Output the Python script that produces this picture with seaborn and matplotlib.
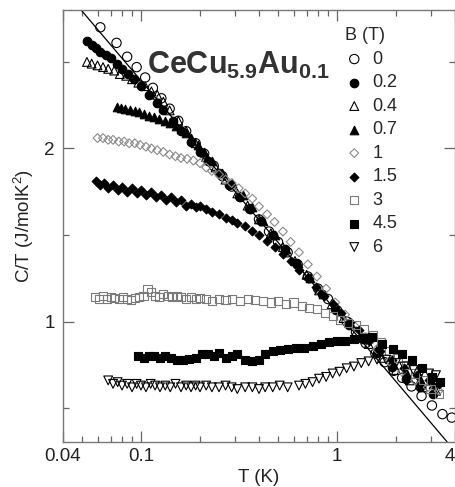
import matplotlib
matplotlib.use("Agg")
import matplotlib.pyplot as plt
import seaborn as sns
from matplotlib.ticker import NullFormatter

# C/T vs T for CeCu5.9Au0.1 at several fields
T_0 = [0.062, 0.075, 0.085, 0.095, 0.105, 0.115, 0.127, 0.14, 0.155, 0.17, 0.19, 0.21, 0.235,
       0.26, 0.29, 0.32, 0.36, 0.40, 0.45, 0.50, 0.56, 0.63, 0.71, 0.80, 0.90, 1.0, 1.12, 1.25,
       1.4, 1.57, 1.75, 1.95, 2.15, 2.4, 2.7, 3.05, 3.45, 3.85]
CT_0 = [2.70, 2.61, 2.53, 2.47, 2.41, 2.35, 2.29, 2.23, 2.16, 2.10, 2.03, 1.97, 1.90,
        1.84, 1.78, 1.72, 1.65, 1.59, 1.52, 1.46, 1.40, 1.33, 1.26, 1.19, 1.13, 1.065, 1.00, 0.94,
        0.875, 0.815, 0.765, 0.715, 0.675, 0.625, 0.57, 0.515, 0.465, 0.445]

T_02 = [0.053, 0.056, 0.059, 0.062, 0.066, 0.07, 0.075, 0.08, 0.086, 0.092, 0.1, 0.11, 0.12,
        0.13, 0.145, 0.16, 0.18, 0.2, 0.22, 0.25, 0.28, 0.32, 0.36, 0.41, 0.47, 0.54, 0.62,
        0.72, 0.84, 0.98, 1.15, 1.35, 1.6, 1.9, 2.25, 2.65, 3.1]
CT_02 = [2.62, 2.60, 2.58, 2.56, 2.54, 2.52, 2.49, 2.46, 2.43, 2.40, 2.36, 2.31, 2.26,
         2.22, 2.16, 2.10, 2.04, 1.98, 1.93, 1.86, 1.79, 1.72, 1.65, 1.58, 1.50, 1.42, 1.34,
         1.25, 1.16, 1.07, 0.98, 0.90, 0.82, 0.74, 0.67, 0.62, 0.58]

T_04 = [0.053, 0.056, 0.06, 0.064, 0.068, 0.073, 0.078, 0.084, 0.09, 0.097, 0.105, 0.113, 0.121,
        0.13, 0.14, 0.155, 0.17, 0.19, 0.215, 0.24, 0.27, 0.31, 0.35, 0.40, 0.46, 0.53, 0.61,
        0.7, 0.81, 0.94, 1.08, 1.25, 1.45, 1.7, 2.0, 2.35, 2.75, 3.2]
CT_04 = [2.50, 2.49, 2.48, 2.47, 2.46, 2.45, 2.43, 2.42, 2.40, 2.38, 2.36, 2.33, 2.31,
         2.27, 2.22, 2.16, 2.10, 2.03, 1.95, 1.89, 1.82, 1.74, 1.67, 1.59, 1.51, 1.43, 1.35,
         1.27, 1.18, 1.10, 1.02, 0.94, 0.87, 0.79, 0.72, 0.66, 0.62, 0.60]

T_07 = [0.075, 0.079, 0.083, 0.088, 0.093, 0.098, 0.104, 0.11, 0.117, 0.124, 0.132, 0.14, 0.15,
        0.16, 0.17, 0.18, 0.195, 0.21, 0.23, 0.26, 0.29, 0.33, 0.37, 0.42, 0.48, 0.55, 0.63,
        0.73, 0.85, 1.0, 1.17, 1.37, 1.6, 1.9, 2.25, 2.65, 3.1]
CT_07 = [2.24, 2.235, 2.23, 2.225, 2.215, 2.21, 2.20, 2.19, 2.18, 2.17, 2.16, 2.15, 2.13,
         2.11, 2.09, 2.06, 2.02, 1.98, 1.93, 1.86, 1.80, 1.73, 1.66, 1.58, 1.50, 1.42, 1.34,
         1.25, 1.16, 1.07, 0.99, 0.91, 0.84, 0.77, 0.71, 0.67, 0.64]

T_1 = [0.060, 0.064, 0.068, 0.072, 0.077, 0.082, 0.087, 0.093, 0.099, 0.106, 0.113, 0.121, 0.13,
       0.14, 0.15, 0.16, 0.172, 0.185, 0.2, 0.215, 0.23, 0.25, 0.27, 0.29, 0.315, 0.34, 0.37,
       0.40, 0.44, 0.48, 0.53, 0.58, 0.64, 0.71, 0.79, 0.88, 0.98, 1.1, 1.24, 1.4, 1.6, 1.85,
       2.15, 2.5, 2.9, 3.3]
CT_1 = [2.06, 2.06, 2.05, 2.05, 2.04, 2.04, 2.03, 2.03, 2.02, 2.01, 2.00, 1.99, 1.98,
        1.965, 1.955, 1.945, 1.94, 1.93, 1.915, 1.89, 1.87, 1.85, 1.82, 1.80, 1.77, 1.74, 1.71,
        1.665, 1.62, 1.575, 1.52, 1.46, 1.40, 1.33, 1.26, 1.19, 1.11, 1.04, 0.97, 0.91, 0.84, 0.77,
        0.71, 0.66, 0.62, 0.60]

T_15 = [0.059, 0.062, 0.065, 0.068, 0.072, 0.076, 0.08, 0.085, 0.09, 0.095, 0.1, 0.106, 0.112,
        0.119, 0.126, 0.134, 0.142, 0.15, 0.16, 0.17, 0.18, 0.19, 0.2, 0.215, 0.23, 0.25, 0.27,
        0.29, 0.31, 0.34, 0.37, 0.40, 0.44, 0.48, 0.53, 0.58, 0.64, 0.71, 0.78, 0.86, 0.95,
        1.05, 1.16, 1.3, 1.45, 1.65, 1.9, 2.2, 2.55, 2.95, 3.3]
CT_15 = [1.81, 1.79, 1.80, 1.77, 1.79, 1.76, 1.78, 1.75, 1.77, 1.74, 1.76, 1.73, 1.75,
         1.72, 1.73, 1.70, 1.72, 1.69, 1.70, 1.67, 1.68, 1.66, 1.665, 1.65, 1.635, 1.62, 1.60,
         1.585, 1.57, 1.55, 1.525, 1.50, 1.465, 1.43, 1.39, 1.35, 1.30, 1.25, 1.20, 1.15, 1.10,
         1.05, 1.00, 0.95, 0.89, 0.83, 0.78, 0.73, 0.69, 0.66, 0.64]

T_3 = [0.058, 0.061, 0.064, 0.067, 0.07, 0.073, 0.077, 0.081, 0.085, 0.089, 0.093, 0.098, 0.103,
       0.108, 0.113, 0.118, 0.124, 0.13, 0.137, 0.144, 0.152, 0.16, 0.17, 0.18, 0.19, 0.2,
       0.215, 0.23, 0.25, 0.27, 0.29, 0.32, 0.35, 0.38, 0.42, 0.46, 0.5, 0.55, 0.6, 0.66, 0.72,
       0.79, 0.87, 0.95, 1.04, 1.14, 1.25, 1.38, 1.52, 1.68, 1.85, 2.05, 2.25, 2.5, 2.75, 3.0, 3.3]
CT_3 = [1.14, 1.13, 1.145, 1.13, 1.14, 1.135, 1.13, 1.14, 1.13, 1.125, 1.135, 1.14, 1.15,
        1.19, 1.17, 1.15, 1.14, 1.16, 1.15, 1.14, 1.15, 1.14, 1.13, 1.14, 1.13, 1.135,
        1.13, 1.12, 1.13, 1.125, 1.13, 1.12, 1.13, 1.125, 1.12, 1.11, 1.12, 1.10, 1.11, 1.09, 1.08,
        1.07, 1.05, 1.03, 1.01, 0.99, 0.98, 0.955, 0.92, 0.88, 0.83, 0.79, 0.75, 0.70, 0.66, 0.61, 0.58]

T_45 = [0.096, 0.103, 0.11, 0.117, 0.125, 0.133, 0.142, 0.152, 0.163, 0.175, 0.19, 0.205, 0.22,
        0.235, 0.25, 0.27, 0.29, 0.31, 0.34, 0.37, 0.40, 0.43, 0.47, 0.51, 0.56, 0.62, 0.68,
        0.75, 0.83, 0.91, 1.0, 1.1, 1.22, 1.35, 1.5, 1.7, 1.92, 2.15, 2.4, 2.7, 3.05, 3.35]
CT_45 = [0.80, 0.79, 0.80, 0.80, 0.79, 0.80, 0.79, 0.78, 0.78, 0.785, 0.79, 0.81, 0.81,
         0.80, 0.82, 0.79, 0.80, 0.81, 0.78, 0.77, 0.78, 0.81, 0.83, 0.835, 0.84, 0.845, 0.85,
         0.86, 0.87, 0.88, 0.885, 0.89, 0.90, 0.905, 0.91, 0.87, 0.84, 0.81, 0.78, 0.73, 0.68, 0.65]

T_6 = [0.068, 0.072, 0.076, 0.08, 0.085, 0.09, 0.095, 0.10, 0.106, 0.112, 0.118, 0.125, 0.133,
       0.141, 0.15, 0.16, 0.17, 0.18, 0.19, 0.20, 0.215, 0.23, 0.25, 0.27, 0.29, 0.31, 0.34,
       0.37, 0.40, 0.43, 0.47, 0.51, 0.56, 0.64, 0.69, 0.75, 0.81, 0.88, 0.95, 1.03, 1.12, 1.22,
       1.33, 1.45, 1.6, 1.78, 2.0, 2.2, 2.45, 2.7, 2.95, 3.2]
CT_6 = [0.66, 0.64, 0.65, 0.63, 0.64, 0.62, 0.64, 0.63, 0.62, 0.64, 0.63, 0.62, 0.63,
        0.62, 0.64, 0.62, 0.63, 0.62, 0.63, 0.62, 0.63, 0.62, 0.62, 0.63, 0.62, 0.61, 0.62,
        0.62, 0.61, 0.62, 0.62, 0.63, 0.62, 0.63, 0.64, 0.65, 0.67, 0.68, 0.70, 0.71, 0.73, 0.74,
        0.76, 0.77, 0.78, 0.78, 0.76, 0.74, 0.72, 0.71, 0.70, 0.69]

# straight -ln(T) line
T_fit = [0.0495, 3.65]
CT_fit = [2.80, 0.304]

fields = ["0", "0.2", "0.4", "0.7", "1", "1.5", "3", "4.5", "6"]
series = [(T_0, CT_0), (T_02, CT_02), (T_04, CT_04), (T_07, CT_07), (T_1, CT_1),
          (T_15, CT_15), (T_3, CT_3), (T_45, CT_45), (T_6, CT_6)]

styles = {
    "0":   dict(marker="o", facecolor="none", edgecolor="k", s=45),
    "0.2": dict(marker="o", color="k", edgecolor="k", s=38),
    "0.4": dict(marker="^", facecolor="none", edgecolor="k", s=40),
    "0.7": dict(marker="^", color="k", edgecolor="k", s=38),
    "1":   dict(marker="D", facecolor="none", edgecolor="#8a8a8a", s=20),
    "1.5": dict(marker="D", color="k", edgecolor="k", s=20),
    "3":   dict(marker="s", facecolor="none", edgecolor="#7a7a7a", s=34),
    "4.5": dict(marker="s", color="k", edgecolor="k", s=34),
    "6":   dict(marker="v", facecolor="none", edgecolor="k", s=40),
}

sns.set_style("ticks")
plt.rcParams["font.family"] = ["Liberation Sans", "DejaVu Sans"]
plt.rcParams["mathtext.fontset"] = "custom"
plt.rcParams["mathtext.rm"] = "Liberation Sans"
plt.rcParams["mathtext.it"] = "Liberation Sans:italic"
plt.rcParams["mathtext.bf"] = "Liberation Sans:bold"

fig = plt.figure(figsize=(4.56, 4.87), dpi=100)
ax = fig.add_axes([63 / 456, 1 - 442 / 487, 392 / 456, 432 / 487])

sns.lineplot(x=T_fit, y=CT_fit, color="k", linewidth=0.9, ax=ax, legend=False, zorder=1)

for B, (T, CT) in zip(fields, series):
    sns.scatterplot(x=T, y=CT, ax=ax, label=B, linewidth=0.8, zorder=2, **styles[B])

ax.set_xscale("log")
ax.set_xlim(0.04, 4)
ax.set_ylim(0.304, 2.80)
ax.set_xticks([0.04, 0.1, 1, 4])
ax.set_xticklabels(["0.04", "0.1", "1", "4"])
ax.xaxis.set_minor_formatter(NullFormatter())
ax.set_yticks([1, 2])
ax.set_yticks([0.5, 1.5, 2.5], minor=True)

ax.tick_params(which="both", direction="in", top=True, right=True,
               color="#666666", labelsize=13.5, labelcolor="#222222")
ax.tick_params(which="major", length=8, width=0.9)
ax.tick_params(axis="x", which="major", pad=4)
ax.tick_params(axis="y", which="major", pad=6)
ax.tick_params(which="minor", length=4, width=0.9)
ax.get_xticklabels()[-1].set_horizontalalignment("right")
for sp in ax.spines.values():
    sp.set_color("#777777")
    sp.set_linewidth(1.0)

ax.set_xlabel("T (K)", fontsize=13.5, color="#222222", labelpad=3)
ax.set_ylabel("C/T (J/molK$^2$)", fontsize=13.5, color="#222222", labelpad=6)

ax.text(0.214, 0.852, r"$\mathbf{CeCu_{5.9}Au_{0.1}}$", transform=ax.transAxes,
        fontsize=22, color="#333333", va="baseline", ha="left")

leg = ax.legend(title="B (T)", frameon=False, loc="upper left", bbox_to_anchor=(0.72, 0.96),
                fontsize=13, title_fontsize=13, labelspacing=0.36, handletextpad=0.5,
                handlelength=1.0, borderaxespad=0, borderpad=0, alignment="left")

fig.savefig("out.png", dpi=100)
